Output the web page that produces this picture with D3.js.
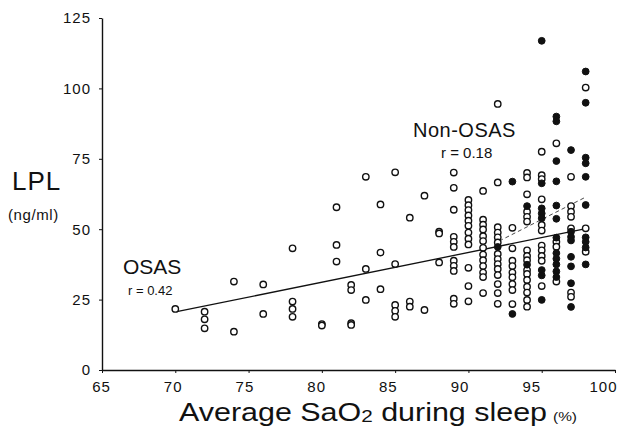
<!DOCTYPE html>
<html>
<head>
<meta charset="utf-8">
<script src="https://cdn.jsdelivr.net/npm/d3@7"></script>
<style>
  html, body { margin: 0; padding: 0; background: #fff; }
  svg { display: block; font-family: "Liberation Sans", Arial, Helvetica, sans-serif; }
</style>
</head>
<body>
<svg id="chart" width="619" height="444"></svg>
<script>
// Average SaO2 during sleep (%) vs LPL (ng/ml)
// OSAS patients (open circles), [SaO2, LPL]
const osas = [
  [70, 21.7],
  [72, 20.7], [72, 18.0], [72, 14.8],
  [74, 31.4], [74, 13.6],
  [76, 30.4], [76, 19.9],
  [78, 43.2], [78, 24.3], [78, 21.7], [78, 18.9],
  [80, 16.3], [80, 15.8],
  [81, 57.8], [81, 44.4], [81, 38.5],
  [82, 30.2], [82, 28.4], [82, 16.6], [82, 16.0],
  [83, 68.6], [83, 35.9], [83, 24.9],
  [84, 58.8], [84, 41.7], [84, 28.7],
  [85, 70.2], [85, 37.6], [85, 23.1], [85, 21.0], [85, 18.9],
  [86, 54.1], [86, 24.3], [86, 22.5],
  [87, 61.9], [87, 21.3],
  [88, 49.1], [88, 48.5], [88, 38.2],
  [89, 70.1], [89, 64.7], [89, 56.9], [89, 47.3], [89, 45.5], [89, 43.7], [89, 38.8], [89, 37.0], [89, 35.2], [89, 25.3], [89, 23.5],
  [90, 60.4], [90, 58.5], [90, 56.8], [90, 54.9], [90, 53.0], [90, 51.2], [90, 48.8], [90, 46.6], [90, 44.6], [90, 36.3], [90, 29.8], [90, 24.4],
  [91, 63.6], [91, 53.4], [91, 51.6], [91, 49.9], [91, 47.5], [91, 45.8], [91, 43.4], [91, 41.0], [91, 39.0], [91, 36.9], [91, 34.6], [91, 33.0], [91, 27.3],
  [92, 94.5], [92, 66.6], [92, 50.7], [92, 48.8], [92, 47.1], [92, 45.3], [92, 41.2], [92, 39.4], [92, 37.6], [92, 35.9], [92, 33.7], [92, 30.5], [92, 27.3], [92, 23.5],
  [93, 50.5], [93, 43.2], [93, 38.8], [93, 36.9], [93, 34.6], [93, 32.9], [93, 30.5], [93, 28.4], [93, 23.4],
  [94, 70.0], [94, 68.4], [94, 62.4], [94, 56.2], [94, 54.4], [94, 52.7], [94, 42.5], [94, 40.5], [94, 39.0], [94, 35.5], [94, 34.1], [94, 32.0], [94, 29.6], [94, 27.5], [94, 24.9], [94, 22.5],
  [95, 77.5], [95, 69.2], [95, 67.8], [95, 60.6], [95, 51.5], [95, 49.5], [95, 44.2], [95, 42.5], [95, 40.5], [95, 38.8], [95, 29.8],
  [96, 80.5], [96, 45.5], [96, 43.8], [96, 31.4],
  [97, 68.6], [97, 58.2], [97, 56.2], [97, 54.4], [97, 50.3], [97, 27.5], [97, 26.0],
  [98, 100.3], [98, 50.3], [98, 42.0]
];

// Non-OSAS subjects (filled circles), [SaO2, LPL]
const nonOsas = [
  [92, 43.7],
  [93, 66.9], [93, 19.9],
  [94, 58.2], [94, 37.4],
  [95, 116.9], [95, 66.3], [95, 57.4], [95, 55.6], [95, 53.9], [95, 35.5], [95, 33.6], [95, 24.9],
  [96, 90.0], [96, 88.3], [96, 74.2], [96, 67.0], [96, 58.4], [96, 53.7], [96, 47.0], [96, 41.5], [96, 39.5], [96, 37.5], [96, 35.0], [96, 33.0],
  [97, 78.1], [97, 49.1], [97, 47.3], [97, 46.0], [97, 40.2], [97, 36.8], [97, 30.8], [97, 22.4],
  [98, 106.0], [98, 94.9], [98, 75.4], [98, 73.4], [98, 68.6], [98, 58.6], [98, 47.1], [98, 45.5], [98, 43.5], [98, 37.5]
];

// Regression lines, end points [SaO2, LPL]
const osasFit = [[70.1, 20.7], [98.1, 50.3]];
const nonOsasFit = [[92.1, 45.8], [98.0, 61.4]];

const xTicks = [65, 70, 75, 80, 85, 90, 95, 100];
const yTicks = [0, 25, 50, 75, 100, 125];

const svg = d3.select("#chart");

const x = d3.scaleLinear().domain([65, 100]).range([102, 615]);
// tick numbers sit on a slightly tighter spacing than the tick marks
const xLabel = d3.scaleLinear().domain([65, 100]).range([101, 603]);
const y = d3.scaleLinear().domain([0, 125]).range([370, 18]);

// axes
const yAxis = svg.append("g")
  .attr("transform", `translate(${x(65)},0)`)
  .call(d3.axisLeft(y).tickValues(yTicks).tickSize(3).tickSizeOuter(0).tickPadding(8));
const xAxis = svg.append("g")
  .attr("transform", `translate(0,${y(0)})`)
  .call(d3.axisBottom(x).tickValues(xTicks).tickSize(3).tickSizeOuter(0).tickFormat(""));
const xAxisLabels = svg.append("g")
  .attr("transform", `translate(0,${y(0)})`)
  .call(d3.axisBottom(xLabel).tickValues(xTicks).tickSize(0).tickPadding(11));
xAxisLabels.select(".domain").remove();

[yAxis, xAxis].forEach(g => {
  g.select(".domain").attr("stroke", "#111").attr("stroke-width", 1.4);
  g.selectAll(".tick line").attr("stroke", "#111").attr("stroke-width", 1);
});
[yAxis, xAxisLabels].forEach(g => {
  g.selectAll(".tick text")
    .attr("fill", "#111")
    .style("font-size", "15px")
    .style("letter-spacing", "1px");
});

// regression lines
const line = d3.line().x(d => x(d[0])).y(d => y(d[1]));
svg.append("path")
  .datum(osasFit)
  .attr("d", line)
  .attr("fill", "none")
  .attr("stroke", "#111")
  .attr("stroke-width", 1.3);
svg.append("path")
  .datum(nonOsasFit)
  .attr("d", line)
  .attr("fill", "none")
  .attr("stroke", "#333")
  .attr("stroke-width", 0.9)
  .attr("stroke-dasharray", "4,3");

// points
svg.append("g").selectAll("circle")
  .data(osas)
  .join("circle")
  .attr("cx", d => x(d[0]))
  .attr("cy", d => y(d[1]))
  .attr("r", 3.2)
  .attr("fill", "#fff")
  .attr("stroke", "#111")
  .attr("stroke-width", 1.4);
svg.append("g").selectAll("circle")
  .data(nonOsas)
  .join("circle")
  .attr("cx", d => x(d[0]))
  .attr("cy", d => y(d[1]))
  .attr("r", 3.4)
  .attr("fill", "#111")
  .attr("stroke", "#111")
  .attr("stroke-width", 1);

// axis titles
svg.append("text")
  .attr("x", 12).attr("y", 190)
  .style("font-size", "26px")
  .style("letter-spacing", "1px")
  .attr("fill", "#111")
  .text("LPL");
svg.append("text")
  .attr("x", 8).attr("y", 220)
  .style("font-size", "15px")
  .style("letter-spacing", "0.6px")
  .attr("fill", "#111")
  .text("(ng/ml)");

const xt = svg.append("text")
  .attr("x", 179).attr("y", 421)
  .attr("textLength", 368)
  .attr("lengthAdjust", "spacingAndGlyphs")
  .style("font-size", "25px")
  .attr("fill", "#111");
xt.append("tspan").text("Average SaO");
xt.append("tspan").style("font-size", "17px").attr("dy", 1).text("2");
xt.append("tspan").attr("dy", -1).text(" during sleep");
svg.append("text")
  .attr("x", 553).attr("y", 421)
  .attr("textLength", 24)
  .attr("lengthAdjust", "spacingAndGlyphs")
  .style("font-size", "13px")
  .attr("fill", "#111")
  .text("(%)");

// group labels
svg.append("text")
  .attr("x", 123).attr("y", 274)
  .style("font-size", "21px")
  .attr("fill", "#111")
  .text("OSAS");
svg.append("text")
  .attr("x", 128).attr("y", 295)
  .style("font-size", "13px")
  .attr("fill", "#111")
  .text("r = 0.42");
svg.append("text")
  .attr("x", 413).attr("y", 137)
  .style("font-size", "20px")
  .style("letter-spacing", "0.5px")
  .attr("fill", "#111")
  .text("Non-OSAS");
svg.append("text")
  .attr("x", 441).attr("y", 158)
  .style("font-size", "15px")
  .attr("fill", "#111")
  .text("r = 0.18");
</script>
</body>
</html>
